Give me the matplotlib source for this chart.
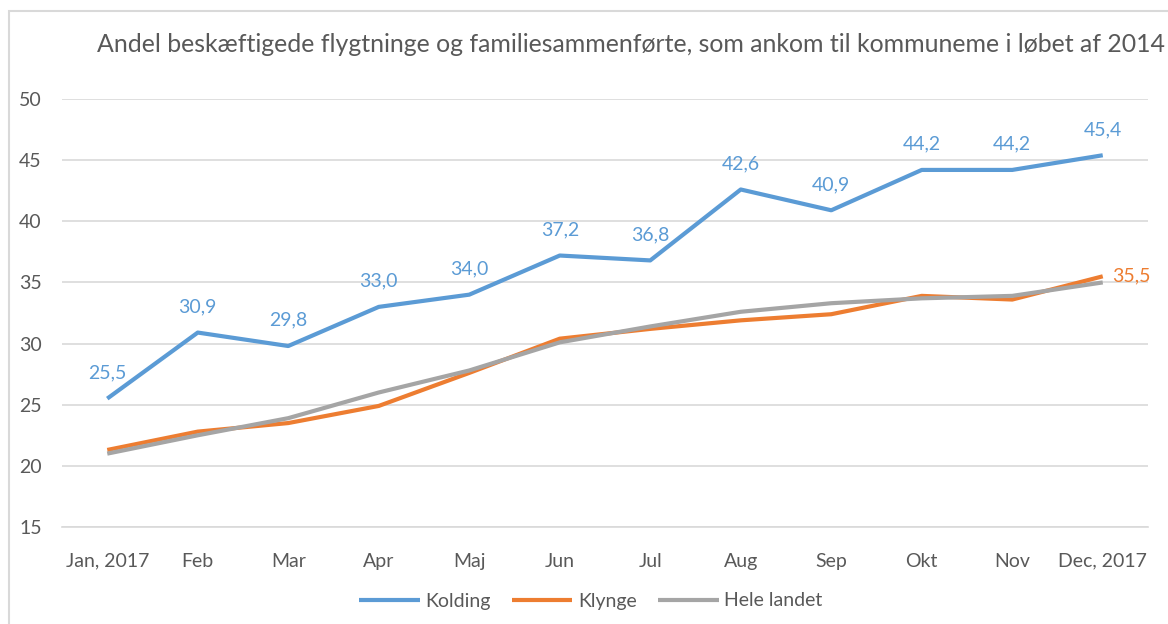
import matplotlib
matplotlib.use("Agg")
import matplotlib.pyplot as plt
from matplotlib.patches import Rectangle

months = ["Jan, 2017", "Feb", "Mar", "Apr", "Maj", "Jun", "Jul", "Aug", "Sep", "Okt", "Nov", "Dec, 2017"]
kolding = [25.5, 30.9, 29.8, 33.0, 34.0, 37.2, 36.8, 42.6, 40.9, 44.2, 44.2, 45.4]
klynge = [21.3, 22.8, 23.5, 24.9, 27.6, 30.4, 31.2, 31.9, 32.4, 33.9, 33.6, 35.5]
hele_landet = [21.0, 22.5, 23.9, 26.0, 27.8, 30.1, 31.4, 32.6, 33.3, 33.7, 33.9, 35.0]
yticks = [15, 20, 25, 30, 35, 40, 45, 50]
title = "Andel beskæftigede flygtninge og familiesammenførte, som ankom til kommuneme i løbet af 2014"

BLUE = "#5B9BD5"
ORANGE = "#ED7D31"
GREY = "#A5A5A5"
TXT = "#595959"

plt.rcParams["font.family"] = ["Lato", "DejaVu Sans"]

W, H = 1168, 624
fig = plt.figure(figsize=(W / 100, H / 100), dpi=100)
fig.patches.append(Rectangle((9 / W, -0.1), 1.2, 1 - 11 / H + 0.1, transform=fig.transFigure,
                             fill=False, edgecolor="#D9D9D9", linewidth=1.5))

ax = fig.add_axes([62 / W, 1 - 527 / H, 1086 / W, 428 / H])
x = list(range(len(months)))
ax.plot(x, kolding, color=BLUE, lw=3.0, solid_capstyle="butt", label="Kolding", zorder=3)
ax.plot(x, klynge, color=ORANGE, lw=3.0, solid_capstyle="butt", label="Klynge", zorder=3)
ax.plot(x, hele_landet, color=GREY, lw=3.0, solid_capstyle="butt", label="Hele landet", zorder=4)

for xi, v in zip(x, kolding):
    ax.annotate(f"{v:.1f}".replace(".", ","), (xi, v), xytext=(0, 18.5), textcoords="offset points",
                ha="center", va="center", color=BLUE, fontsize=14)
ax.annotate(f"{klynge[-1]:.1f}".replace(".", ","), (x[-1], klynge[-1]), xytext=(7, 0),
            textcoords="offset points", ha="left", va="center", color=ORANGE, fontsize=14)

ax.set_xlim(-0.5, len(months) - 0.5)
ax.set_ylim(15, 50)
ax.set_yticks(yticks)
ax.set_xticks(x)
ax.set_xticklabels(months)
ax.grid(axis="y", color="#D9D9D9", lw=1.2)
ax.set_axisbelow(True)
for s in ["top", "right", "left"]:
    ax.spines[s].set_visible(False)
ax.spines["bottom"].set_color("#D9D9D9")
ax.spines["bottom"].set_linewidth(1.2)
ax.tick_params(axis="both", length=0, colors=TXT, labelsize=14)
ax.tick_params(axis="x", pad=18.5)
ax.tick_params(axis="y", pad=14.5)

fig.text(631 / W, 1 - 45 / H, title, ha="center", va="center", color=TXT, fontsize=17.9)

leg = fig.legend(loc="center", bbox_to_anchor=(591 / W, 1 - 601 / H), ncol=3, frameon=False,
                 fontsize=14, handlelength=3.1, columnspacing=1.1, handletextpad=0.3)
for t in leg.get_texts():
    t.set_color(TXT)

fig.savefig("out.png", dpi=100)
